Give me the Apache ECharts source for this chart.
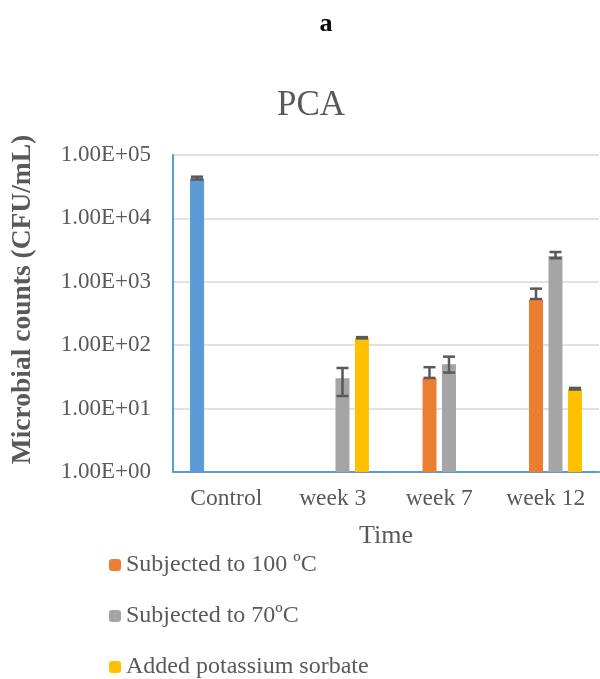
<!DOCTYPE html>
<html>
<head>
<meta charset="utf-8">
<script src="https://cdn.jsdelivr.net/npm/echarts@6/dist/echarts.min.js"></script>
<style>
  html, body { margin: 0; padding: 0; background: #fff; }
  #chart { width: 600px; height: 679px; }
</style>
</head>
<body>
<div id="chart"></div>
<script>
// categories and series values (CFU/mL, log scale)
const categories = ['Control', 'week 3', 'week 7', 'week 12'];
const controlVals = [42900, '-', '-', '-'];
const heat100Vals = ['-', '-', 30, 530];
const heat70Vals = ['-', 30, 50, 2550];
const sorbateVals = ['-', 131, '-', 20.5];

// error bars: [low, high] per category, null = none
const controlErr = [[41000, 45500], null, null, null];
const heat100Err = [null, null, [30.5, 45], [535, 780]];
const heat70Err = [null, [15.8, 43.7], [37, 66], [2350, 2950]];
const sorbateErr = [null, [128, 134], null, [20, 21.2]];

const yTicks = [1, 10, 100, 1000, 10000, 100000];

const seriesNames = ['Control', 'Subjected to 100 \u00baC', 'Subjected to 70\u00baC', 'Added potassium sorbate'];
const colors = ['#5B9BD5', '#ED7D31', '#A5A5A5', '#FFC000'];
const FONT = '"Liberation Serif", "Times New Roman", serif';

var myChart = echarts.init(document.getElementById('chart'));

function errSeries(errs, slot) {
  const data = [];
  errs.forEach((e, i) => {
    if (e) data.push([i, e[0], e[1]]);
  });
  return {
    type: 'custom',
    z: 10,
    silent: true,
    encode: { x: 0, y: [1, 2] },
    data: data,
    renderItem: function (params, api) {
      const off = (slot - 1.5) * 19.5;
      const lo = api.coord([api.value(0), api.value(1)]);
      const hi = api.coord([api.value(0), api.value(2)]);
      const x = lo[0] + off;
      const cw = 6;
      const style = { stroke: '#595959', lineWidth: 2.5 };
      return {
        type: 'group',
        children: [
          { type: 'line', shape: { x1: x, y1: lo[1], x2: x, y2: hi[1] }, style: style },
          { type: 'line', shape: { x1: x - cw, y1: lo[1], x2: x + cw, y2: lo[1] }, style: style },
          { type: 'line', shape: { x1: x - cw, y1: hi[1], x2: x + cw, y2: hi[1] }, style: style }
        ]
      };
    }
  };
}

function barSeries(name, vals, color) {
  return {
    name: name,
    type: 'bar',
    data: vals,
    barWidth: 14,
    barGap: '39%',
    barCategoryGap: '32%',
    itemStyle: { color: color }
  };
}

var option = {
  animation: false,
  textStyle: { fontFamily: FONT },
  title: [
    {
      text: 'a',
      left: 321,
      top: 6,
      textAlign: 'center',
      textStyle: { fontFamily: FONT, fontSize: 26, fontWeight: 'bold', color: '#000' }
    },
    {
      text: 'PCA',
      left: 306,
      top: 83,
      textAlign: 'center',
      textStyle: { fontFamily: FONT, fontSize: 35, fontWeight: 'normal', color: '#595959' }
    }
  ],
  legend: {
    orient: 'vertical',
    left: 104,
    top: 548,
    height: 140,
    itemGap: 27,
    itemWidth: 12,
    itemHeight: 12,
    data: seriesNames.slice(1),
    textStyle: { fontFamily: FONT, fontSize: 24, color: '#595959' }
  },
  grid: {
    left: 173,
    right: 1,
    top: 155,
    bottom: 207
  },
  xAxis: {
    type: 'category',
    data: categories,
    name: 'Time',
    nameLocation: 'middle',
    nameGap: 51,
    nameTextStyle: { fontFamily: FONT, fontSize: 26, color: '#595959' },
    axisLine: { lineStyle: { color: '#5B9BD5', width: 2 } },
    axisTick: { show: false },
    axisLabel: { fontFamily: FONT, fontSize: 23.5, color: '#595959', margin: 15 }
  },
  yAxis: {
    type: 'log',
    logBase: 10,
    min: 1,
    max: 100000,
    name: 'Microbial counts (CFU/mL)',
    nameLocation: 'middle',
    nameGap: 136,
    nameTextStyle: {
      fontFamily: FONT, fontSize: 27.5, fontWeight: 'bold', color: '#595959',
      padding: [0, 0, 0, 28]
    },
    axisLine: { show: true, lineStyle: { color: '#5B9BD5', width: 2 } },
    axisTick: { show: false },
    splitLine: { lineStyle: { color: '#D9D9D9', width: 1.5 } },
    axisLabel: {
      fontFamily: FONT,
      fontSize: 23,
      color: '#595959',
      margin: 22,
      formatter: function (v) {
        const e = Math.round(Math.log10(v));
        if (yTicks.indexOf(Math.pow(10, e)) < 0) return '';
        return '1.00E+' + String(e).padStart(2, '0');
      }
    }
  },
  series: [
    barSeries(seriesNames[0], controlVals, colors[0]),
    barSeries(seriesNames[1], heat100Vals, colors[1]),
    barSeries(seriesNames[2], heat70Vals, colors[2]),
    barSeries(seriesNames[3], sorbateVals, colors[3]),
    errSeries(controlErr, 0),
    errSeries(heat100Err, 1),
    errSeries(heat70Err, 2),
    errSeries(sorbateErr, 3)
  ]
};

myChart.setOption(option);
</script>
</body>
</html>
